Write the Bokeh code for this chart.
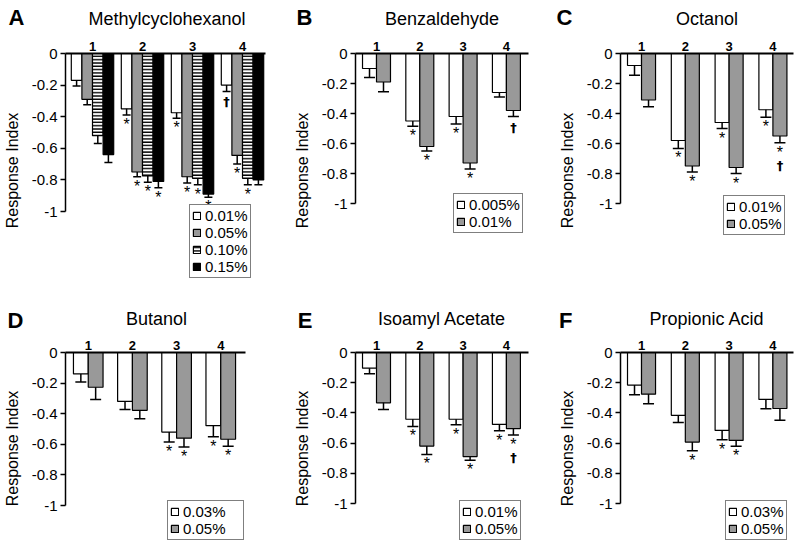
from bokeh.plotting import figure
from bokeh.models import (ColumnDataSource, Whisker, TeeHead, Label, Legend, LegendItem,
                          FixedTicker, Range1d)
from bokeh.layouts import row, column
from bokeh.embed import file_html
from bokeh.resources import INLINE
from bokeh.core.properties import value

# ---------------- data ----------------
GROUPS = [1, 2, 3, 4]
GROUP_LABELS = ["1", "2", "3", "4"]
Y_TICKS = [0.0, -0.2, -0.4, -0.6, -0.8, -1.0]
Y_TICK_LABELS = ["0", "-0.2", "-0.4", "-0.6", "-0.8", "-1"]
Y_LABEL = "Response Index"

A_TITLE = "Methylcyclohexanol"
A_CONC = ["0.01%", "0.05%", "0.10%", "0.15%"]
A_MEAN = [[-0.17, -0.35, -0.375, -0.20],
          [-0.29, -0.75, -0.78, -0.645],
          [-0.52, -0.775, -0.79, -0.79],
          [-0.64, -0.81, -0.89, -0.80]]
A_ERR = [[0.035, 0.04, 0.035, 0.04],
         [0.035, 0.03, 0.04, 0.055],
         [0.05, 0.04, 0.04, 0.04],
         [0.05, 0.04, 0.02, 0.03]]
A_SIG = [["", "*", "*", "†"],
         ["", "*", "*", "*"],
         ["", "*", "*", "*"],
         ["", "*", "*", ""]]

B_TITLE = "Benzaldehyde"
B_CONC = ["0.005%", "0.01%"]
B_MEAN = [[-0.10, -0.45, -0.42, -0.26],
          [-0.19, -0.62, -0.73, -0.38]]
B_ERR = [[0.06, 0.035, 0.05, 0.03],
         [0.065, 0.03, 0.04, 0.04]]
B_SIG = [["", "*", "*", ""],
         ["", "*", "*", "†"]]

C_TITLE = "Octanol"
C_CONC = ["0.01%", "0.05%"]
C_MEAN = [[-0.08, -0.58, -0.46, -0.375],
          [-0.31, -0.75, -0.76, -0.55]]
C_ERR = [[0.065, 0.053, 0.04, 0.05],
         [0.045, 0.04, 0.04, 0.045]]
C_SIG = [["", "*", "*", "*"],
         ["", "*", "*", "*†"]]

D_TITLE = "Butanol"
D_CONC = ["0.03%", "0.05%"]
D_MEAN = [[-0.14, -0.32, -0.52, -0.478],
          [-0.227, -0.378, -0.56, -0.567]]
D_ERR = [[0.053, 0.053, 0.065, 0.073],
         [0.08, 0.055, 0.057, 0.045]]
D_SIG = [["", "", "*", "*"],
         ["", "", "*", "*"]]

E_TITLE = "Isoamyl Acetate"
E_CONC = ["0.01%", "0.05%"]
E_MEAN = [[-0.104, -0.442, -0.442, -0.476],
          [-0.333, -0.62, -0.689, -0.504]]
E_ERR = [[0.037, 0.048, 0.036, 0.043],
         [0.045, 0.055, 0.025, 0.042]]
E_SIG = [["", "*", "*", "*"],
         ["", "*", "*", "*†"]]

F_TITLE = "Propionic Acid"
F_CONC = ["0.03%", "0.05%"]
F_MEAN = [[-0.216, -0.416, -0.516, -0.311],
          [-0.276, -0.593, -0.582, -0.371]]
F_ERR = [[0.063, 0.048, 0.061, 0.061],
         [0.064, 0.058, 0.039, 0.078]]
F_SIG = [["", "", "*", ""],
         ["", "*", "*", ""]]

# ---------------- styles ----------------
FONT = "Liberation Sans"
STYLES = [
    dict(fill_color="white"),
    dict(fill_color="#999999"),
    dict(fill_color="white", hatch_pattern="-", hatch_color="black",
         hatch_scale=3.3, hatch_weight=1.5),
    dict(fill_color="black"),
]


def make_header(letter, title, *, width, height, borders, top, letter_gap, title_y):
    """Strip above a panel: panel letter (as a bare left-axis label) + odorant name."""
    bl, br = borders
    s = figure(width=width, height=height, output_backend="svg", toolbar_location=None,
               x_range=Range1d(0, 1), y_range=Range1d(0, 1), tools="",
               x_axis_location=None, y_axis_location="left",
               min_border_left=bl, min_border_right=br, min_border_top=top,
               min_border_bottom=0)
    s.outline_line_color = None
    s.grid.visible = False
    ya = s.yaxis[0]
    ya.ticker = FixedTicker(ticks=[])
    ya.axis_line_color = None
    ya.major_tick_out = 0
    ya.major_tick_in = 0
    ya.minor_tick_out = 0
    ya.minor_tick_in = 0
    ya.major_label_text_font_size = "0px"
    ya.axis_label = letter
    ya.axis_label_orientation = "horizontal"
    ya.axis_label_text_font = FONT
    ya.axis_label_text_font_style = "bold"
    ya.axis_label_text_font_size = "22px"
    ya.axis_label_text_color = "black"
    ya.axis_label_standoff = letter_gap
    fw = width - bl - br
    s.add_layout(Label(x=fw / 2, y=title_y, x_units="screen",
                       y_units="screen", text=title, text_font=FONT,
                       text_font_size="18px", text_baseline="middle",
                       text_align="center", text_color="black"))
    return s


def make_panel(conc, means, errs, sigs, *, width, height, borders,
               xr, px_per_unit, bar_w, tee, legend_xy, label_width=20,
               ylabel_standoff=8):
    bl, br, bt, bb = borders
    fh = height - bt - bb
    p = figure(width=width, height=height, output_backend="svg", toolbar_location=None,
               x_range=Range1d(*xr), y_range=Range1d(-fh / px_per_unit, 0),
               min_border_left=bl, min_border_right=br, min_border_top=bt,
               min_border_bottom=bb, x_axis_location="above", tools="")
    p.outline_line_color = None
    p.grid.visible = False
    p.background_fill_color = "white"
    p.border_fill_color = "white"

    xa = p.xaxis[0]
    xa.ticker = FixedTicker(ticks=GROUPS)
    xa.major_label_overrides = {float(g): s for g, s in zip(GROUPS, GROUP_LABELS)}
    xa.major_label_text_font = FONT
    xa.major_label_text_font_style = "bold"
    xa.major_label_text_font_size = "13px"
    xa.major_label_text_color = "black"
    xa.major_label_standoff = 3
    xa.major_tick_out = 0
    xa.major_tick_in = 0
    xa.minor_tick_out = 0
    xa.minor_tick_in = 0
    xa.axis_line_width = 2
    xa.axis_line_color = "black"

    ya = p.yaxis[0]
    ya.ticker = FixedTicker(ticks=Y_TICKS)
    ya.major_label_overrides = dict(zip(Y_TICKS, Y_TICK_LABELS))
    ya.bounds = (-1, 0)
    ya.axis_label = Y_LABEL
    ya.axis_label_text_font = FONT
    ya.axis_label_text_font_style = "normal"
    ya.axis_label_text_font_size = "16px"
    ya.axis_label_text_color = "black"
    ya.axis_label_standoff = ylabel_standoff
    ya.major_label_text_font = FONT
    ya.major_label_text_font_size = "15px"
    ya.major_label_text_color = "black"
    ya.major_label_standoff = 3
    ya.major_tick_out = 5
    ya.major_tick_in = 0
    ya.minor_tick_out = 0
    ya.minor_tick_in = 0
    ya.axis_line_width = 1.5
    ya.major_tick_line_width = 1.5
    ya.axis_line_color = "black"
    ya.major_tick_line_color = "black"

    n = len(means)
    items = []
    for i in range(n):
        off = (i - (n - 1) / 2) * bar_w
        stars = ["*" if "*" in s else "" for s in sigs[i]]
        daggers = ["†" if "†" in s else "" for s in sigs[i]]
        dag_off = [15 if "*" in s else 3 for s in sigs[i]]
        src = ColumnDataSource(dict(
            x=[g + off for g in GROUPS],
            top=means[i],
            upper=[m + e for m, e in zip(means[i], errs[i])],
            lower=[m - e for m, e in zip(means[i], errs[i])],
            star=stars, dagger=daggers, dag_off=dag_off,
        ))
        r = p.vbar(x="x", top="top", bottom=0, width=bar_w, source=src,
                   line_color="black", line_width=1.2, **STYLES[i])
        items.append(LegendItem(label=conc[i], renderers=[r]))
        wk = Whisker(source=src, base="x", upper="upper", lower="lower",
                     line_color="black", line_width=1.5,
                     upper_head=TeeHead(size=tee, line_width=1.5, line_color="black"),
                     lower_head=TeeHead(size=tee, line_width=1.5, line_color="black"))
        p.add_layout(wk)
        p.text(x="x", y="lower", text="star", source=src, text_align="center",
               text_baseline="top", y_offset=1, text_font=value(FONT),
               text_font_size="16px", text_color="black")
        p.text(x="x", y="lower", text="dagger", source=src, text_align="center",
               text_baseline="top", y_offset="dag_off", text_font=value("DejaVu Sans"),
               text_font_size="13px", text_font_style="bold", text_color="black")

    legend = Legend(items=items, location=legend_xy,
                    label_text_font=FONT, label_text_font_size="15px",
                    label_text_color="black",
                    glyph_width=9, glyph_height=9, label_height=15,
                    label_standoff=4, label_width=label_width, spacing=0, padding=2,
                    margin=0, border_line_color="black", border_line_width=1,
                    background_fill_color="white", background_fill_alpha=1)
    p.add_layout(legend)
    return p


HS1, H1 = 34, 256   # row 1: header strip + chart
HS2, H2 = 43, 213   # row 2: header strip + chart

hA = make_header("A", A_TITLE, width=270, height=HS1, borders=(62, 5), top=0,
                 letter_gap=41, title_y=16)
pA = make_panel(A_CONC, A_MEAN, A_ERR, A_SIG,
                width=270, height=H1, borders=(62, 5, 19, 3),
                xr=(0.46, 4.46), px_per_unit=158, bar_w=0.212, tee=8,
                legend_xy=(124, 9))
hB = make_header("B", B_TITLE, width=265, height=HS1, borders=(85, 7), top=0,
                 letter_gap=43, title_y=16)
pB = make_panel(B_CONC, B_MEAN, B_ERR, B_SIG,
                width=265, height=H1, borders=(85, 7, 19, 3),
                xr=(0.515, 4.51), px_per_unit=150, bar_w=0.323, tee=11,
                legend_xy=(98, 54))
hC = make_header("C", C_TITLE, width=265, height=HS1, borders=(85, 7), top=0,
                 letter_gap=48, title_y=16)
pC = make_panel(C_CONC, C_MEAN, C_ERR, C_SIG,
                width=265, height=H1, borders=(85, 7, 19, 3),
                xr=(0.52, 4.47), px_per_unit=150, bar_w=0.32, tee=11,
                legend_xy=(103, 52))
hD = make_header("D", D_TITLE, width=270, height=HS2, borders=(63, 25), top=16,
                 letter_gap=42, title_y=15)
pD = make_panel(D_CONC, D_MEAN, D_ERR, D_SIG,
                width=270, height=H2, borders=(63, 25, 19, 2),
                xr=(0.485, 4.56), px_per_unit=153, bar_w=0.335, tee=11,
                legend_xy=(102, 4), label_width=58)
hE = make_header("E", E_TITLE, width=265, height=HS2, borders=(85, 7), top=16,
                 letter_gap=43, title_y=15)
pE = make_panel(E_CONC, E_MEAN, E_ERR, E_SIG,
                width=265, height=H2, borders=(85, 7, 19, 2),
                xr=(0.515, 4.51), px_per_unit=151, bar_w=0.323, tee=11,
                legend_xy=(104, 4))
hF = make_header("F", F_TITLE, width=265, height=HS2, borders=(85, 7), top=16,
                 letter_gap=48, title_y=15)
pF = make_panel(F_CONC, F_MEAN, F_ERR, F_SIG,
                width=265, height=H2, borders=(85, 7, 19, 2),
                xr=(0.52, 4.47), px_per_unit=151, bar_w=0.32, tee=11,
                legend_xy=(105, 4))

layout = column(row(column(hA, pA), column(hB, pB), column(hC, pC)),
                row(column(hD, pD), column(hE, pE), column(hF, pF)))

with open("out.html", "w") as f:
    f.write(file_html(layout, INLINE))
